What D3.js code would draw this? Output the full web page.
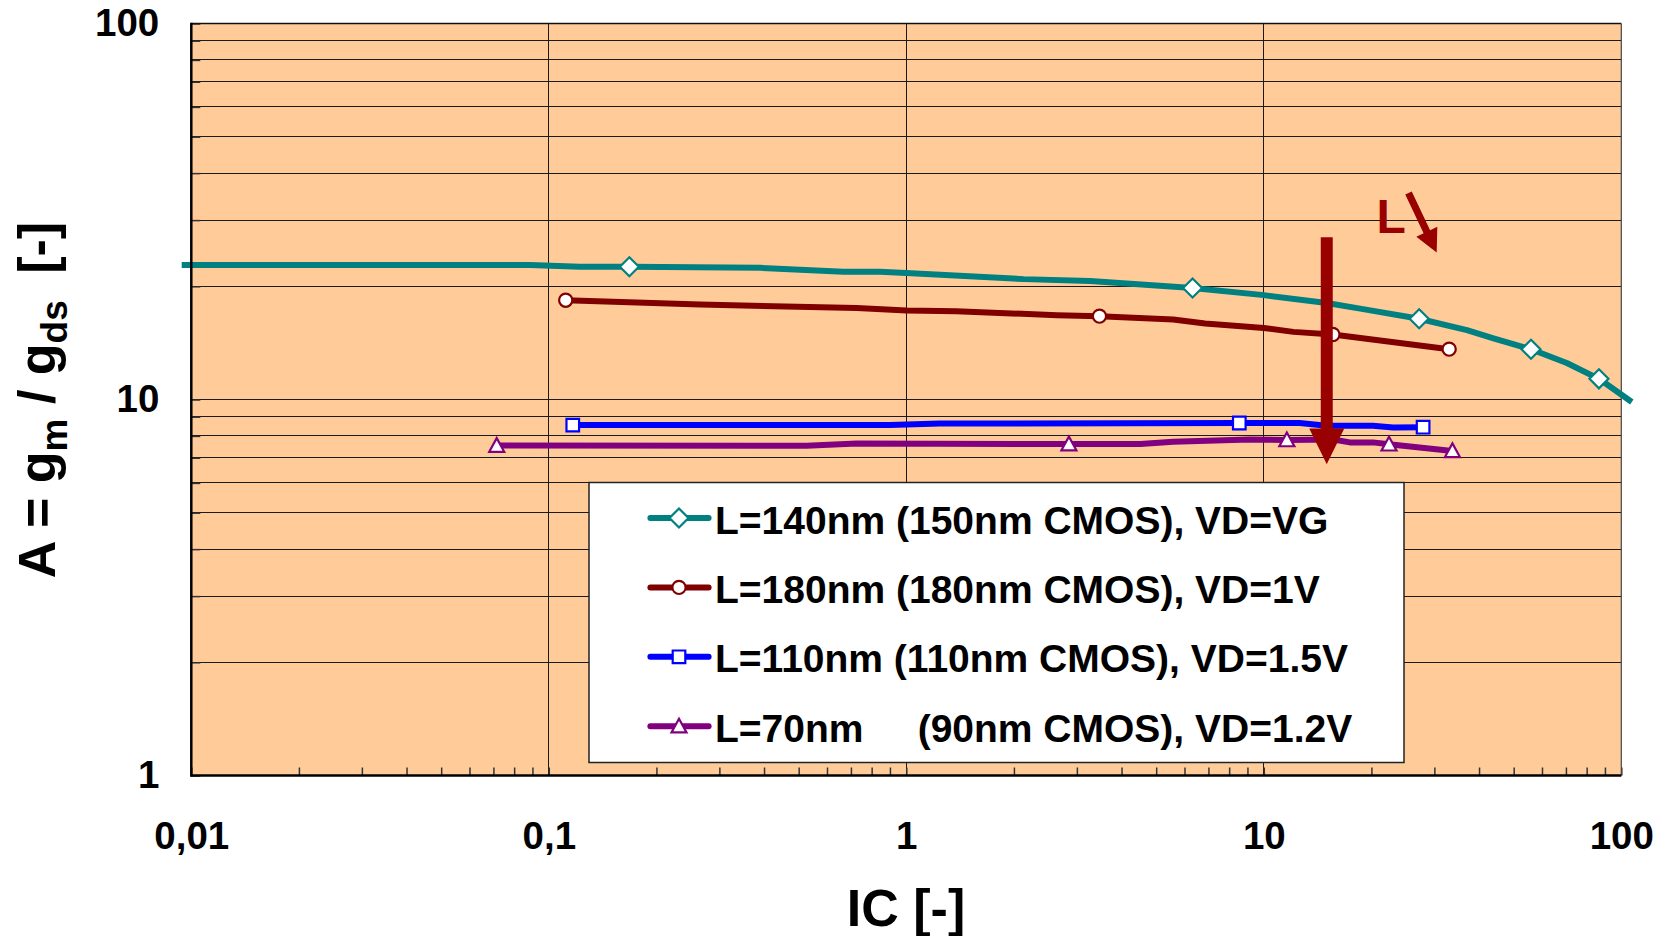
<!DOCTYPE html>
<html><head><meta charset="utf-8">
<script src="https://cdn.jsdelivr.net/npm/d3@7"></script>
<style>
html,body{margin:0;padding:0;background:#fff;}
svg{display:block;font-family:"Liberation Sans",Arial,Helvetica,sans-serif;font-weight:bold;}
</style></head><body>
<svg id="c" width="1665" height="936"></svg>
<script>
// ---------------- data ----------------
const tealIC = [0.0094, 0.0886, 0.122, 0.168, 0.39, 0.667, 0.844, 1.0, 2.13, 3.27, 6.32, 10.0, 15.0, 18.6, 27.2, 37.0, 43.9, 55.9, 70.4, 86.6, 107];
const tealA  = [22.8, 22.8, 22.55, 22.55, 22.4, 21.85, 21.85, 21.7, 20.9, 20.65, 19.8, 18.95, 18.05, 17.45, 16.4, 15.3, 14.55, 13.6, 12.5, 11.35, 9.85];
const tealMarkers = [3, 10, 14, 17, 19];

const redIC = [0.1115, 0.265, 0.727, 1.0, 1.38, 2.64, 3.47, 5.58, 6.85, 10.0, 12.1, 15.6, 33.0];
const redA  = [18.37, 17.9, 17.5, 17.25, 17.17, 16.76, 16.66, 16.32, 15.93, 15.5, 15.13, 14.89, 13.61];
const redMarkers = [0, 6, 11, 12];

const blueIC = [0.1167, 0.90, 1.24, 8.54, 12.6, 15.0, 20.2, 23.0, 27.9];
const blueA  = [8.55, 8.55, 8.63, 8.66, 8.66, 8.51, 8.51, 8.43, 8.44];
const blueMarkers = [0, 3, 8];

const purpleIC = [0.0715, 0.526, 0.727, 2.85, 4.51, 5.58, 9.15, 11.6, 15.65, 17.4, 20.2, 22.4, 33.7];
const purpleA  = [7.54, 7.53, 7.64, 7.61, 7.61, 7.72, 7.83, 7.80, 7.83, 7.69, 7.69, 7.60, 7.30];
const purpleMarkers = [0, 3, 7, 11, 12];

const seriesNames = [
  "L=140nm (150nm CMOS), VD=VG",
  "L=180nm (180nm CMOS), VD=1V",
  "L=110nm (110nm CMOS), VD=1.5V",
  "L=70nm     (90nm CMOS), VD=1.2V"
];

const xTicks = [0.01,0.02,0.03,0.04,0.05,0.06,0.07,0.08,0.09,
                0.1,0.2,0.3,0.4,0.5,0.6,0.7,0.8,0.9,
                1,2,3,4,5,6,7,8,9,
                10,20,30,40,50,60,70,80,90,100];
const xLabelValues = [0.01, 0.1, 1, 10, 100];
const xLabelTexts  = ["0,01", "0,1", "1", "10", "100"];
const yTicks = [1,2,3,4,5,6,7,8,9,10,20,30,40,50,60,70,80,90,100];
const yLabelValues = [1, 10, 100];
const yLabelTexts  = ["1", "10", "100"];
const xGrid = [0.1, 1, 10];

const xTitle = "IC [-]";

// annotations (data units)
const bigArrow = {ic: 15.0, top: 27.0, headBase: 8.375, tip: 6.73};
const smallArrow = {from: [25.4, 35.4], to: [30.45, 24.6]};
const annLabel = {ic: 20.67, a: 27.74, text: "L"};

// ---------------- drawing ----------------
const svg = d3.select("#c");
const P = {left: 191.3, right: 1621.3, top: 23.5, bottom: 775.5};
const x = d3.scaleLog().domain([0.01, 100]).range([P.left, P.right]);
const y = d3.scaleLog().domain([1, 100]).range([P.bottom, P.top]);
const near = (a, b) => Math.abs(Math.log10(a) - Math.log10(b)) < 1e-6;

svg.append("rect").attr("x", P.left).attr("y", P.top)
  .attr("width", P.right - P.left).attr("height", P.bottom - P.top).attr("fill", "#FFCC99");

// grid
const g = svg.append("g").attr("shape-rendering", "crispEdges");
g.selectAll("line.h").data(yTicks.filter(v => v > 1 && v < 100)).join("line")
  .attr("x1", P.left).attr("x2", P.right).attr("y1", d => y(d)).attr("y2", d => y(d))
  .attr("stroke", "#1a1a1a").attr("stroke-width", 1);
g.selectAll("line.v").data(xGrid).join("line")
  .attr("y1", P.top).attr("y2", P.bottom).attr("x1", d => x(d)).attr("x2", d => x(d))
  .attr("stroke", "#1a1a1a").attr("stroke-width", 1);

// axes
const xAxis = d3.axisBottom(x).tickValues(xTicks).tickSize(-8).tickPadding(46)
  .tickFormat(d => { const i = xLabelValues.findIndex(v => near(v, d)); return i >= 0 ? xLabelTexts[i] : ""; });
const yAxis = d3.axisLeft(y).tickValues(yTicks).tickSize(-9).tickPadding(32)
  .tickFormat(d => { const i = yLabelValues.findIndex(v => near(v, d)); return i >= 0 ? yLabelTexts[i] : ""; });

const gx = svg.append("g").attr("transform", `translate(0,${P.bottom})`).call(xAxis);
const gy = svg.append("g").attr("transform", `translate(${P.left},0)`).call(yAxis);
[gx, gy].forEach(a => {
  a.select(".domain").remove();
  a.selectAll(".tick line").attr("stroke", "#333").attr("stroke-width", 1.5);
  a.selectAll(".tick text").attr("fill", "#000").attr("font-size", 38.5)
    .attr("font-family", '"Liberation Sans",Arial,sans-serif').attr("font-weight", "bold");
});

// border
svg.append("line").attr("x1", P.left).attr("x2", P.right).attr("y1", P.top).attr("y2", P.top)
  .attr("stroke", "#111").attr("stroke-width", 1.5);
svg.append("line").attr("x1", P.right).attr("x2", P.right).attr("y1", P.top).attr("y2", P.bottom)
  .attr("stroke", "#444").attr("stroke-width", 1.2);

// series
const series = [
  {ic: tealIC, a: tealA, m: tealMarkers, color: "#008080", shape: "diamond"},
  {ic: redIC, a: redA, m: redMarkers, color: "#800000", shape: "circle"},
  {ic: blueIC, a: blueA, m: blueMarkers, color: "#0000FF", shape: "square"},
  {ic: purpleIC, a: purpleA, m: purpleMarkers, color: "#800080", shape: "triangle"}
];
const line = d3.line().x(d => x(d[0])).y(d => y(d[1]));
const shapes = {
  diamond: "M0,-9.5L9.5,0L0,9.5L-9.5,0Z",
  circle: d3.symbol().type(d3.symbolCircle).size(Math.PI * 6.6 * 6.6)(),
  square: "M-6.3,-6.3H6.3V6.3H-6.3Z",
  triangle: "M0,-7.5L7.5,6.2L-7.5,6.2Z"
};
function marker(sel, s, px, py) {
  sel.append("path").attr("d", shapes[s.shape]).attr("transform", `translate(${px},${py})`)
    .attr("fill", "#fff").attr("stroke", s.color).attr("stroke-width", 2.2);
}
series.forEach(s => {
  const pts = s.ic.map((v, i) => [v, s.a[i]]);
  svg.append("path").attr("d", line(pts)).attr("fill", "none").attr("stroke", s.color)
    .attr("stroke-width", 6).attr("stroke-linejoin", "round");
});
// left & bottom axis lines
svg.append("line").attr("x1", P.left).attr("x2", P.left).attr("y1", P.top - 0.7).attr("y2", P.bottom + 1.2)
  .attr("stroke", "#000").attr("stroke-width", 2.5);
svg.append("line").attr("x1", P.left).attr("x2", P.right).attr("y1", P.bottom).attr("y2", P.bottom)
  .attr("stroke", "#000").attr("stroke-width", 2.5);
series.forEach(s => {
  const mg = svg.append("g");
  s.m.forEach(i => marker(mg, s, x(s.ic[i]), y(s.a[i])));
});

// legend
const L = {x: 589, y: 482.5, w: 815, h: 280};
svg.append("rect").attr("x", L.x).attr("y", L.y).attr("width", L.w).attr("height", L.h)
  .attr("fill", "#fff").attr("stroke", "#222").attr("stroke-width", 1.5);
series.forEach((s, i) => {
  const ry = 518 + i * 69.4;
  svg.append("line").attr("x1", 650.4).attr("x2", 708.6).attr("y1", ry).attr("y2", ry)
    .attr("stroke", s.color).attr("stroke-width", 6).attr("stroke-linecap", "round");
  marker(svg, s, 679, ry);
  svg.append("text").attr("x", 715).attr("y", ry + 15.5).attr("font-size", 39)
    .attr("xml:space", "preserve").style("white-space", "pre")
    .attr("fill", "#000").text(seriesNames[i]);
});

// axis titles
svg.append("text").attr("x", 906).attr("y", 926).attr("text-anchor", "middle")
  .attr("font-size", 52).attr("fill", "#000").text(xTitle);
const yt = svg.append("text").attr("transform", "translate(55,400) rotate(-90)")
  .attr("text-anchor", "middle").attr("font-size", 52).attr("fill", "#000");
yt.append("tspan").text("A = g");
yt.append("tspan").attr("font-size", 37).attr("dy", 12).text("m");
yt.append("tspan").attr("dy", -12).text(" / g");
yt.append("tspan").attr("font-size", 37).attr("dy", 12).text("ds");
yt.append("tspan").attr("dy", -12).attr("dx", 12).text(" [-]");

// annotations
const AC = "#990000";
{
  const cx = x(bigArrow.ic), yt0 = y(bigArrow.top), yb = y(bigArrow.headBase), yp = y(bigArrow.tip);
  const sw = 6, hw = 17.5;
  svg.append("path").attr("fill", AC)
    .attr("d", `M${cx - sw},${yt0}H${cx + sw}V${yb}H${cx + hw}L${cx},${yp}L${cx - hw},${yb}H${cx - sw}Z`);
}
{
  const x0 = x(smallArrow.from[0]), y0 = y(smallArrow.from[1]);
  const x1 = x(smallArrow.to[0]), y1 = y(smallArrow.to[1]);
  const dx = x1 - x0, dy = y1 - y0, len = Math.hypot(dx, dy);
  const ux = dx / len, uy = dy / len, nx = -uy, ny = ux;
  const hl = 23, hw = 11.6, sw = 3.6;
  const bx = x1 - ux * hl, by = y1 - uy * hl;
  const pts = [
    [x0 + nx * sw, y0 + ny * sw], [bx + nx * sw, by + ny * sw], [bx + nx * hw, by + ny * hw],
    [x1, y1], [bx - nx * hw, by - ny * hw], [bx - nx * sw, by - ny * sw], [x0 - nx * sw, y0 - ny * sw]
  ];
  svg.append("path").attr("fill", AC).attr("d", "M" + pts.map(p => p.join(",")).join("L") + "Z");
}
svg.append("text").attr("x", x(annLabel.ic)).attr("y", y(annLabel.a)).attr("font-size", 48)
  .attr("fill", AC).text(annLabel.text);
</script>
</body></html>
